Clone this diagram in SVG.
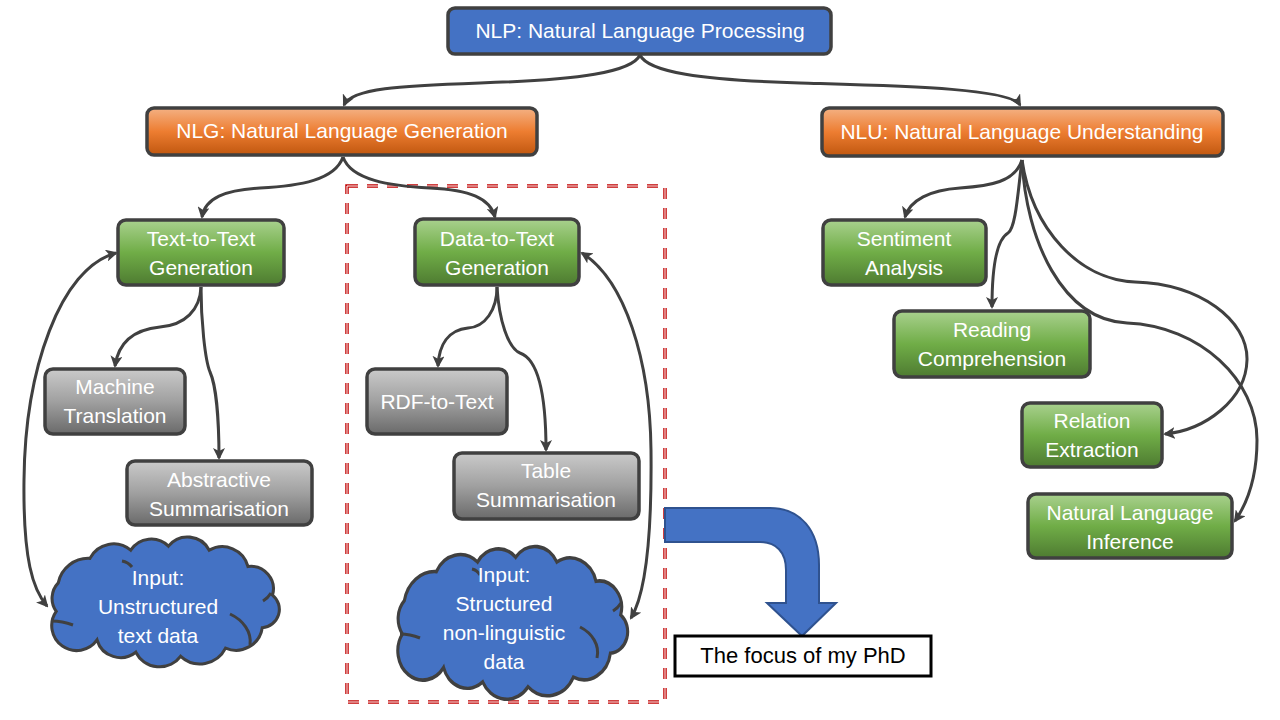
<svg xmlns="http://www.w3.org/2000/svg" width="1280" height="720" viewBox="0 0 1280 720">
<defs>
<linearGradient id="gOrange" x1="0" y1="0" x2="0" y2="1">
<stop offset="0" stop-color="#F4B183"/><stop offset="0.5" stop-color="#ED7D31"/><stop offset="1" stop-color="#C0570F"/>
</linearGradient>
<linearGradient id="gGreen" x1="0" y1="0" x2="0" y2="1">
<stop offset="0" stop-color="#A9D18E"/><stop offset="0.5" stop-color="#70AD47"/><stop offset="1" stop-color="#4E7B31"/>
</linearGradient>
<linearGradient id="gGray" x1="0" y1="0" x2="0" y2="1">
<stop offset="0" stop-color="#CACACA"/><stop offset="0.5" stop-color="#A0A0A0"/><stop offset="1" stop-color="#6A6A6A"/>
</linearGradient>
<marker id="ah" viewBox="0 0 12 12" refX="10" refY="6" markerWidth="12" markerHeight="12" markerUnits="userSpaceOnUse" orient="auto-start-reverse">
<path d="M0,0 L12,6 L0,12 L3,6 Z" fill="#404040"/>
</marker>
<path id="cloud" d="M12,70 A22,22 0 0 1 14,42 A30,30 0 0 1 45,18 A26,26 0 0 1 85,10 A24,24 0 0 1 122,6 A24,24 0 0 1 162,10 A26,26 0 0 1 200,26 A22,22 0 0 1 224,54 A18,18 0 0 1 214,86 A26,26 0 0 1 178,106 A28,28 0 0 1 134,114 A26,26 0 0 1 90,110 A24,24 0 0 1 52,98 A22,22 0 0 1 12,70 Z"/>
</defs>
<style>
.box{stroke:#404040;stroke-width:3.5}
.t{font-family:"Liberation Sans",Arial,sans-serif;font-size:21px;fill:#FFFFFF;text-anchor:middle}
.c{fill:none;stroke:#404040;stroke-width:3}
.cl{fill:#4472C4;stroke:#404040;stroke-width:3;vector-effect:non-scaling-stroke}
.crease{fill:none;stroke:#404040;stroke-width:3}
</style>
<rect width="1280" height="720" fill="#FFFFFF"/>

<g id="focus-region">
<rect x="347" y="186" width="318" height="516" fill="none" stroke="#C00000" stroke-width="3.5" stroke-dasharray="11 9"/>
<rect x="347" y="186" width="318" height="516" fill="none" stroke="#FFFFFF" stroke-width="1" stroke-dasharray="11 9"/>
</g>

<g id="connectors">
<path class="c" marker-end="url(#ah)" d="M640,55 C632,72 580,80 480,83 C400,86 352,88 344,105"/>
<path class="c" marker-end="url(#ah)" d="M640,55 C648,72 700,80 800,83 C900,86 1010,88 1020,105"/>
<path class="c" marker-end="url(#ah)" d="M343,157 C335,180 300,186 260,188 C225,190 205,198 202,217"/>
<path class="c" marker-end="url(#ah)" d="M343,157 C351,180 390,186 430,188 C470,190 490,198 495,217"/>
<path class="c" marker-end="url(#ah)" d="M201,287 C200,310 185,325 160,327 C130,330 118,345 115,366"/>
<path class="c" marker-end="url(#ah)" d="M201,287 C201,320 205,360 210,372 C216,385 219,420 219,458"/>
<path class="c" marker-end="url(#ah)" d="M497,287 C497,310 485,327 468,328 C448,330 439,345 438,366"/>
<path class="c" marker-end="url(#ah)" d="M497,287 C499,320 508,348 520,353 C540,360 546,400 546,450"/>
<path class="c" marker-start="url(#ah)" marker-end="url(#ah)" d="M116,253 C60,268 25,370 24,480 C23,560 33,590 47,606"/>
<path class="c" marker-start="url(#ah)" marker-end="url(#ah)" d="M582,253 C625,280 650,360 651,450 C652,540 645,595 631,618"/>
<path class="c" marker-end="url(#ah)" d="M1022,160 C1015,182 990,186 960,188 C930,190 910,200 905,217"/>
<path class="c" marker-end="url(#ah)" d="M1022,160 C1018,190 1016,228 1008,233 C996,240 992,270 992,307"/>
<path class="c" marker-end="url(#ah)" d="M1022,160 C1032,230 1080,280 1135,282 C1200,284 1248,320 1247,360 C1246,400 1205,430 1165,434"/>
<path class="c" marker-end="url(#ah)" d="M1022,160 C1026,240 1062,320 1127,323 C1200,326 1257,380 1257,440 C1257,480 1246,505 1235,521"/>
</g>

<g id="nlp"><rect class="box" x="448" y="8" width="383" height="46" rx="7" fill="#4472C4"/><text class="t" x="640" y="38">NLP: Natural Language Processing</text></g>
<g id="nlg"><rect class="box" x="147" y="108" width="390" height="47" rx="7" fill="url(#gOrange)"/><text class="t" x="342" y="138">NLG: Natural Language Generation</text></g>
<g id="nlu"><rect class="box" x="822" y="108" width="401" height="48" rx="7" fill="url(#gOrange)"/><text class="t" x="1022" y="139">NLU: Natural Language Understanding</text></g>

<g id="text-to-text"><rect class="box" x="118" y="220" width="166" height="65" rx="8" fill="url(#gGreen)"/><text class="t" x="201" y="246">Text-to-Text</text><text class="t" x="201" y="275">Generation</text></g>
<g id="data-to-text"><rect class="box" x="415" y="219" width="164" height="66" rx="8" fill="url(#gGreen)"/><text class="t" x="497" y="246">Data-to-Text</text><text class="t" x="497" y="275">Generation</text></g>

<g id="machine-translation"><rect class="box" x="45" y="369" width="140" height="65" rx="8" fill="url(#gGray)"/><text class="t" x="115" y="394">Machine</text><text class="t" x="115" y="423">Translation</text></g>
<g id="abstractive"><rect class="box" x="127" y="461" width="185" height="64" rx="8" fill="url(#gGray)"/><text class="t" x="219" y="487">Abstractive</text><text class="t" x="219" y="516">Summarisation</text></g>
<g id="rdf-to-text"><rect class="box" x="367" y="369" width="140" height="65" rx="8" fill="url(#gGray)"/><text class="t" x="437" y="409">RDF-to-Text</text></g>
<g id="table-summarisation"><rect class="box" x="454" y="453" width="185" height="66" rx="8" fill="url(#gGray)"/><text class="t" x="546" y="478">Table</text><text class="t" x="546" y="507">Summarisation</text></g>

<g id="sentiment"><rect class="box" x="823" y="220" width="163" height="65" rx="8" fill="url(#gGreen)"/><text class="t" x="904" y="246">Sentiment</text><text class="t" x="904" y="275">Analysis</text></g>
<g id="reading"><rect class="box" x="894" y="311" width="196" height="66" rx="8" fill="url(#gGreen)"/><text class="t" x="992" y="337">Reading</text><text class="t" x="992" y="366">Comprehension</text></g>
<g id="relation"><rect class="box" x="1022" y="403" width="140" height="64" rx="8" fill="url(#gGreen)"/><text class="t" x="1092" y="428">Relation</text><text class="t" x="1092" y="457">Extraction</text></g>
<g id="nli"><rect class="box" x="1028" y="494" width="204" height="64" rx="8" fill="url(#gGreen)"/><text class="t" x="1130" y="520">Natural Language</text><text class="t" x="1130" y="549">Inference</text></g>

<g id="cloud-unstructured">
<use href="#cloud" class="cl" transform="translate(44,540) scale(1.02,1.02)"/>
<path class="crease" d="M122,561 Q128,562 132,567"/>
<path class="crease" d="M52,621 Q62,621 73,625"/>
<path class="crease" d="M230,614 C243,620 252,632 250,645"/>
<path class="crease" d="M263,601 Q268,598 271,593"/>
<text class="t" x="158" y="585">Input:</text>
<text class="t" x="158" y="614">Unstructured</text>
<text class="t" x="158" y="643">text data</text>
</g>

<g id="cloud-structured">
<use href="#cloud" class="cl" transform="translate(390,550) scale(1.03,1.2)"/>
<path class="crease" d="M472,569 Q477,570 480,575"/>
<path class="crease" d="M400,634 Q410,634 420,638"/>
<path class="crease" d="M580,627 C592,633 600,645 597,658"/>
<path class="crease" d="M613,611 Q618,608 621,603"/>
<text class="t" x="504" y="582">Input:</text>
<text class="t" x="504" y="611">Structured</text>
<text class="t" x="504" y="640">non-linguistic</text>
<text class="t" x="504" y="669">data</text>
</g>

<g id="focus-arrow">
<path d="M665,508 L770,508 C800,508 819,530 819,565 L819,603 L836,603 L802,636 L767,603 L786,603 L786,570 C786,552 776,542 760,542 L665,542 Z" fill="#4472C4" stroke="#2F528F" stroke-width="2"/>
</g>

<g id="focus-label">
<rect x="675" y="636" width="256" height="40" fill="#FFFFFF" stroke="#000000" stroke-width="3"/>
<text class="t" x="803" y="663" style="fill:#000000;font-size:22px">The focus of my PhD</text>
</g>
</svg>
